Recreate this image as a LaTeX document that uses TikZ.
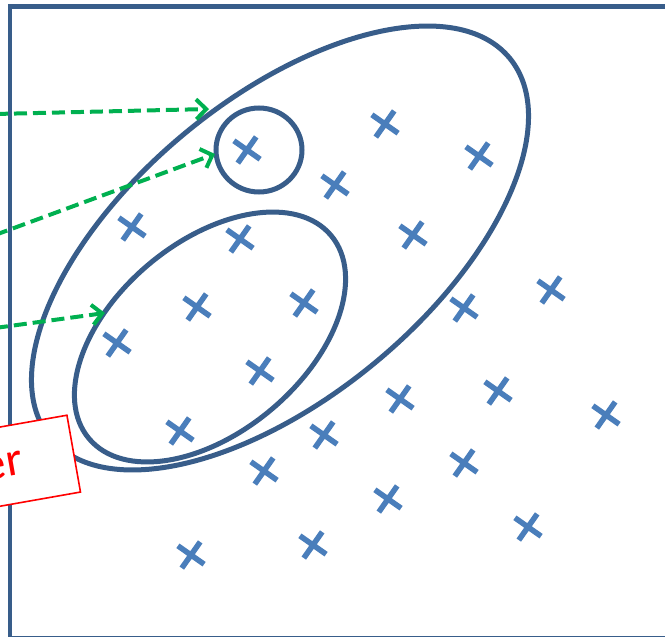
\documentclass[tikz,border=0pt]{standalone}
\usepackage{fontspec}
\newfontfamily\calib{Carlito}
\usetikzlibrary{arrows.meta}
\definecolor{frameblue}{HTML}{385D8A}
\definecolor{crossblue}{HTML}{4A7EBB}
\definecolor{arrowgreen}{HTML}{00B050}

\begin{document}
\begin{tikzpicture}[
  x=1pt,y=-1pt,
  frame/.style={draw=frameblue, line width=4.5pt},
  cluster/.style={draw=frameblue, line width=5pt},
  datapoint/.style={draw=crossblue, line width=5.5pt},
  pointer/.style={draw=arrowgreen, line width=4pt, dash pattern=on 13pt off 6pt,
    -{Straight Barb[length=10pt,width=20pt]}},
  callout/.style={draw=red, line width=1.6pt, fill=white, text=red,
    font=\calib\fontsize{48}{48}\selectfont}
]
\useasboundingbox (0,0) rectangle (665,637);

% Frame (runs past the right edge)
\draw[frame] (10,700) -- (10,6.5) -- (700,6.5);
\draw[frame] (10,638) -- (700,638);

% Data points
\foreach \x/\y in {247/150,385/124,479/156,335/185,132/227,240/239,413/235,
                   197/307,304/303,464/308,551/290,117/343,260/371,400/399,
                   498/391,606/415,180/431,324/435,264/471,464/463,388/499,
                   528/527,191/555,313/545} {
  \draw[datapoint] (\x-13.1,\y-9.2) -- ++(26.2,18.4)
                   (\x-9.2,\y+13.1) -- ++(18.4,-26.2);
}

% Clusters
\draw[cluster, shift={(280,248)}, rotate=39.6] (0,0) ellipse [x radius=298, y radius=149];
\draw[cluster, shift={(210,337)}, rotate=40] (0,0) ellipse [x radius=158, y radius=95];
\draw[cluster] (259,150) ellipse [x radius=43, y radius=42];

% Pointers from the left
\coordinate (src1) at (-5,114);
\coordinate (tip1) at (209,109);
\coordinate (src2) at (-5,235);
\coordinate (tip2) at (215,154);
\coordinate (src3) at (-5,328);
\coordinate (tip3) at (105,313);
\draw[pointer] (src1) -- (tip1);
\draw[pointer] (src2) -- (tip2);
\draw[pointer] (src3) -- (tip3);

% Label box
\node[callout, rotate=10, anchor=east, minimum height=78pt, text width=100pt,
  align=right, inner xsep=52pt] (label) at (74.5,453.5) {er};

\end{tikzpicture}
\end{document}
